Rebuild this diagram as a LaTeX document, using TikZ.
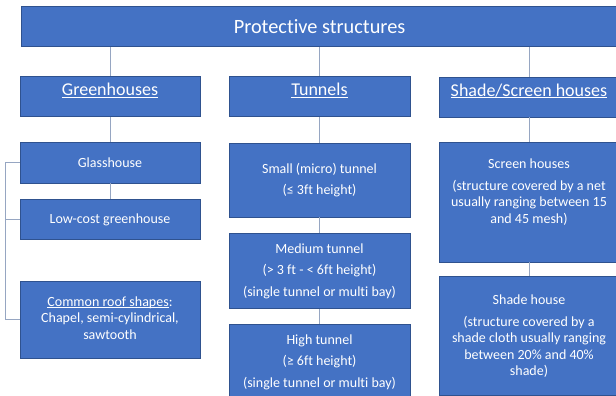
\documentclass[tikz,border=0pt]{standalone}
\usepackage{fontspec}
\setmainfont{Carlito}[Ligatures={NoCommon}]
\usetikzlibrary{positioning}
\definecolor{OfficeBlue}{RGB}{68,114,196}
\definecolor{BoxEdge}{RGB}{47,82,143}
\definecolor{LinkGray}{RGB}{150,166,194}
\newcommand\undl[1]{\underline{\smash{#1}}}
\tikzset{
  pbox/.style={
    draw=BoxEdge,
    fill=OfficeBlue,
    text=white,
    line width=0.8pt,
    align=center,
    inner sep=0pt,
    minimum width=180pt
  },
  headbox/.style={pbox,font=\fontsize{18}{22}\selectfont,minimum height=40pt},
  itembox/.style={pbox,font=\fontsize{14}{16.5}\selectfont},
  link/.style={draw=LinkGray,line width=0.8pt}
}

\begin{document}
\begin{tikzpicture}[x=1pt,y=-1pt]
  \clip (0,0) rectangle (616,396);

  \node[pbox,minimum width=597pt,minimum height=40pt,font=\fontsize{20.3}{24}\selectfont] (top) at (319.5,26.5) {Protective structures};

  \node[headbox] (gh) at (110,96.5) {\undl{Greenhouses}};
  \node[headbox,minimum width=181pt] (tun) at (319.5,96.5) {\undl{Tunnels}};
  \node[headbox] (shade) at (529,97) {\undl{Shade/Screen houses}};

  % greenhouses
  \node[itembox,minimum height=41pt] (glass) at (110,162.5) {Glasshouse};
  \node[itembox,minimum height=40pt,below=16pt of glass] (lowcost) {Low-cost greenhouse};
  \node[itembox,minimum height=77pt] (roof) at (110,319.5) {\undl{Common roof shapes}:\\Chapel, semi-cylindrical,\\sawtooth};

  % tunnels
  \node[itembox,minimum width=181pt,minimum height=74pt] (small) at (319.5,180) {Small (micro) tunnel\\[5pt](≤ 3ft height)};
  \node[itembox,minimum width=181pt,minimum height=75pt,below=16pt of small] (medium) {Medium tunnel\\[5pt](> 3 ft - < 6ft height)\\[5pt](single tunnel or multi bay)};
  \node[itembox,minimum width=181pt,minimum height=75pt,below=15pt of medium] (high) {High tunnel\\[5pt](≥ 6ft height)\\[5pt](single tunnel or multi bay)};

  % shade / screen houses
  \node[itembox,minimum height=120pt] (screen) at (529,202) {Screen houses\\[5pt](structure covered by a net\\usually ranging between 15\\and 45 mesh)\\[5pt]\mbox{}};
  \node[itembox,minimum height=119pt,below=14pt of screen] (shadeh) {Shade house\\[5pt](structure covered by a\\shade cloth usually ranging\\between 20\% and 40\%\\shade)};

  \draw[link] (gh.north |- top.south) -- (gh.north);
  \draw[link] (tun.north |- top.south) -- (tun.north);
  \draw[link] (shade.north |- top.south) -- (shade.north);
  \draw[link] (gh) -- (glass);
  \draw[link] (glass) -- (lowcost);
  \draw[link] (tun) -- (small);
  \draw[link] (small) -- (medium);
  \draw[link] (medium) -- (high);
  \draw[link] (shade) -- (screen);
  \draw[link] (screen) -- (shadeh);
  \draw[link] (glass.west) -- ++(-14,0) |- (roof.west);
  \draw[link] (lowcost.west) -- ++(-14,0);
\end{tikzpicture}
\end{document}
